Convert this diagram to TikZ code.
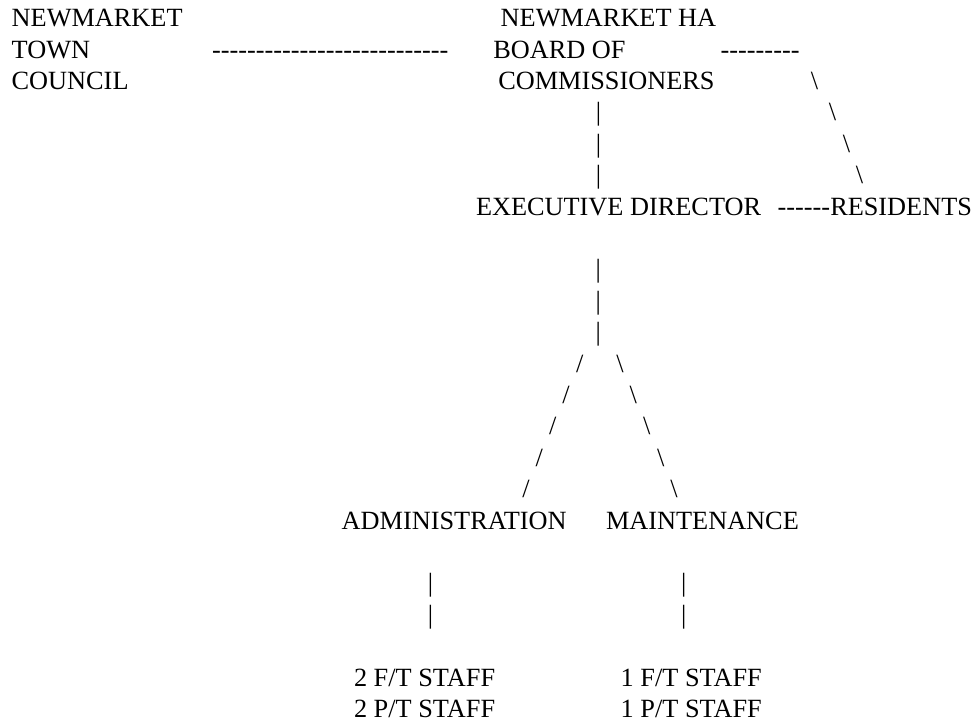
\documentclass[tikz,border=0pt]{standalone}
\usepackage{fontspec}
\setmainfont{Liberation Serif}[Ligatures=TeXOff]
\newcommand\orgfont{\fontsize{26.3pt}{31.4pt}\selectfont}
\newcommand\hyphens[1]{\foreach\k in {1,...,#1}{\mbox{-}}}
\tikzset{
  txt/.style={anchor=base west, inner sep=0pt, outer sep=0pt, font=\orgfont},
  glyph/.style={anchor=base, inner sep=0pt, outer sep=0pt, font=\orgfont},
}
\begin{document}
\begin{tikzpicture}[x=1pt, y=-1pt]
\useasboundingbox[fill=white] (0,0) rectangle (977,725);
% line 1
\node[txt] (tc1) at (11.7,26.7) {NEWMARKET};
\node[txt] (bd1) at (500.7,26.7) {NEWMARKET HA};
% line 2
\node[txt] (tc2) at (11.7,58.1) {TOWN};
\node[txt] (dashA) at (212,58.1) {\hyphens{27}};
\node[txt] (bd2) at (493.3,58.1) {BOARD OF};
\node[txt] (dashB) at (720.7,58.1) {\hyphens{9}};
% line 3
\node[txt] (tc3) at (11.7,89.5) {COUNCIL};
\node[txt] (bd3) at (498.3,89.5) {COMMISSIONERS};
\node[glyph] (rb1) at (814.5,89.5) {\textbackslash};
% lines 4-6
\node[glyph] (vb1) at (598.6,120.9) {|};
\node[glyph] (vb2) at (598.6,152.3) {|};
\node[glyph] (vb3) at (598.6,183.7) {|};
\node[glyph] (rb2) at (832.5,120.9) {\textbackslash};
\node[glyph] (rb3) at (846.5,152.3) {\textbackslash};
\node[glyph] (rb4) at (859.5,183.7) {\textbackslash};
% line 7
\node[txt] (ed) at (476,215.1) {EXECUTIVE DIRECTOR};
\node[txt] (res) at (777.7,215.1) {\hyphens{6}RESIDENTS};
% lines 9-11
\node[glyph] (vc1) at (598.3,277.9) {|};
\node[glyph] (vc2) at (598.3,309.3) {|};
\node[glyph] (vc3) at (598.3,340.7) {|};
% lines 12-16
\node[glyph] (sl1) at (579.7,372.1) {/};
\node[glyph] (sl2) at (566.0,403.5) {/};
\node[glyph] (sl3) at (552.7,434.9) {/};
\node[glyph] (sl4) at (539.3,466.3) {/};
\node[glyph] (sl5) at (526.0,497.7) {/};
\node[glyph] (sr1) at (620.0,372.1) {\textbackslash};
\node[glyph] (sr2) at (633.3,403.5) {\textbackslash};
\node[glyph] (sr3) at (646.7,434.9) {\textbackslash};
\node[glyph] (sr4) at (660.7,466.3) {\textbackslash};
\node[glyph] (sr5) at (674.0,497.7) {\textbackslash};
% line 17
\node[txt] (adm) at (341.7,529.1) {ADMINISTRATION};
\node[txt] (mnt) at (606,529.1) {MAINTENANCE};
% lines 19-20
\node[glyph] (va1) at (430.5,591.9) {|};
\node[glyph] (va2) at (430.5,623.3) {|};
\node[glyph] (vm1) at (683.8,591.9) {|};
\node[glyph] (vm2) at (683.8,623.3) {|};
% lines 22-23
\node[txt] (as1) at (354,686.1) {2 F/T STAFF};
\node[txt] (as2) at (354,717.5) {2 P/T STAFF};
\node[txt] (ms1) at (620.7,686.1) {1 F/T STAFF};
\node[txt] (ms2) at (620.7,717.5) {1 P/T STAFF};
\end{tikzpicture}
\end{document}
